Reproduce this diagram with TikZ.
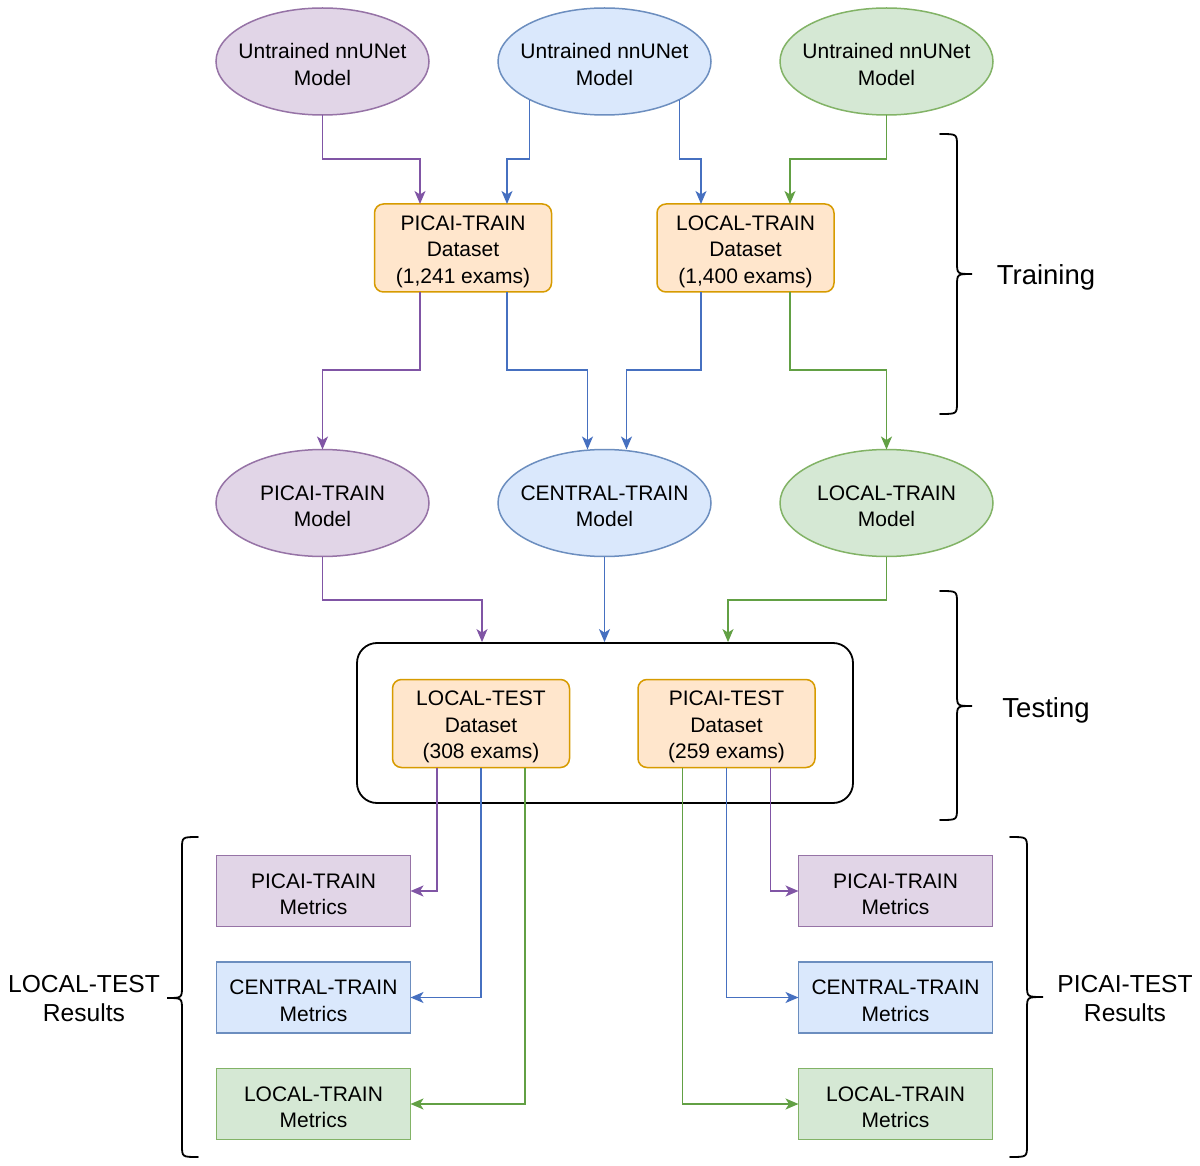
\documentclass[tikz,border=0pt]{standalone}
\usepackage{fontspec}
\setmainfont{Liberation Sans}
\usetikzlibrary{arrows.meta,shapes.geometric}
\definecolor{pfill}{HTML}{E1D5E7}
\definecolor{pdraw}{HTML}{9673A6}
\definecolor{bfill}{HTML}{DAE8FC}
\definecolor{bdraw}{HTML}{6C8EBF}
\definecolor{gfill}{HTML}{D5E8D4}
\definecolor{gdraw}{HTML}{82B366}
\definecolor{ofill}{HTML}{FFE6CC}
\definecolor{odraw}{HTML}{D79B00}
\definecolor{parrow}{RGB}{128,85,165}
\definecolor{barrow}{RGB}{70,112,192}
\definecolor{garrow}{RGB}{98,160,68}
\newcommand{\tstr}{\rule{0pt}{21.5pt}}
\begin{document}
\begin{tikzpicture}[x=1pt,y=-1pt,
  txt/.style={font=\fontsize{21}{26.5}\selectfont, align=center, inner sep=0pt, outer sep=0pt, line width=1.5pt},
  ell/.style={txt, ellipse, inner sep=-20pt, minimum width=213pt, minimum height=107pt},
  pell/.style={ell, fill=pfill, draw=pdraw},
  bell/.style={ell, fill=bfill, draw=bdraw},
  gell/.style={ell, fill=gfill, draw=gdraw},
  dset/.style={txt, rectangle, rounded corners=9pt, fill=ofill, draw=odraw, minimum width=177pt, minimum height=88pt},
  met/.style={txt, rectangle, minimum width=194pt, minimum height=71pt},
  pmet/.style={met, fill=pfill, draw=pdraw},
  bmet/.style={met, fill=bfill, draw=bdraw},
  gmet/.style={met, fill=gfill, draw=gdraw},
  arr/.style={line width=1.5pt, -{Stealth[length=13pt,width=11pt,inset=3.5pt]}},
  parr/.style={arr, draw=parrow},
  barr/.style={arr, draw=barrow},
  garr/.style={arr, draw=garrow},
  bracepath/.style={line width=1.8pt, draw=black, line cap=round},
  big/.style={font=\fontsize{27.5}{32}\selectfont, inner sep=0pt, align=center},
  res/.style={font=\fontsize{24.6}{29}\selectfont, inner sep=0pt, align=center}
]
\useasboundingbox (0,0) rectangle (1200,1166);
\fill[white] (0,0) rectangle (1200,1166);

% level coordinates
\coordinate (L1) at (0,159);
\coordinate (L2) at (0,370);
\coordinate (L3) at (0,600);

% top ellipses
\node[pell] (u1) at (322.5,61.5) {\tstr Untrained nnUNet\\Model};
\node[bell] (u2) at (604.5,61.5) {\tstr Untrained nnUNet\\Model};
\node[gell] (u3) at (886.5,61.5) {\tstr Untrained nnUNet\\Model};

% training datasets
\node[dset] (ptr) at (463,248) {\tstr PICAI-TRAIN\\Dataset\\(1,241 exams)};
\node[dset] (ltr) at (745.5,248) {\tstr LOCAL-TRAIN\\Dataset\\(1,400 exams)};

% trained models
\node[pell] (pm) at (322.5,503) {\tstr PICAI-TRAIN\\Model};
\node[bell] (cm) at (604.5,503) {\tstr CENTRAL-TRAIN\\Model};
\node[gell] (lm) at (886.5,503) {\tstr LOCAL-TRAIN\\Model};

% testing container
\node[draw=black, fill=white, line width=1.8pt, rounded corners=20pt, minimum width=496pt, minimum height=160pt, inner sep=0pt] (tc) at (605,723) {};
\node[dset] (lt) at (481,723.5) {\tstr LOCAL-TEST\\Dataset\\(308 exams)};
\node[dset] (pts) at (726.5,723.5) {\tstr PICAI-TEST\\Dataset\\(259 exams)};

% metrics
\node[pmet] (pm1) at (313.5,891) {\tstr PICAI-TRAIN\\Metrics};
\node[bmet] (cm1) at (313.5,997.5) {\tstr CENTRAL-TRAIN\\Metrics};
\node[gmet] (lm1) at (313.5,1104) {\tstr LOCAL-TRAIN\\Metrics};
\node[pmet] (pm2) at (895.5,891) {\tstr PICAI-TRAIN\\Metrics};
\node[bmet] (cm2) at (895.5,997.5) {\tstr CENTRAL-TRAIN\\Metrics};
\node[gmet] (lm2) at (895.5,1104) {\tstr LOCAL-TRAIN\\Metrics};

% ports
\coordinate (ptrN1) at ([xshift=-43pt]ptr.north);
\coordinate (ptrN2) at ([xshift=44pt]ptr.north);
\coordinate (ltrN1) at ([xshift=-44.5pt]ltr.north);
\coordinate (ltrN2) at ([xshift=44.5pt]ltr.north);
\coordinate (ptrS1) at ([xshift=-43pt]ptr.south);
\coordinate (ptrS2) at ([xshift=44pt]ptr.south);
\coordinate (ltrS1) at ([xshift=-44.5pt]ltr.south);
\coordinate (ltrS2) at ([xshift=44.5pt]ltr.south);
\coordinate (cmN1) at ([xshift=-17pt]cm.north);
\coordinate (cmN2) at ([xshift=22pt]cm.north);
\coordinate (tcN1) at ([xshift=-123pt]tc.north);
\coordinate (tcN2) at ([xshift=123pt]tc.north);
\coordinate (ltS1) at ([xshift=-44pt]lt.south);
\coordinate (ltS2) at ([xshift=44pt]lt.south);
\coordinate (ptsS1) at ([xshift=-44pt]pts.south);
\coordinate (ptsS2) at ([xshift=44pt]pts.south);

% connectors
\draw[parr] (u1.south) |- (ptrN1 |- L1) -- (ptrN1);
\draw[barr] (u2.207) |- (ptrN2 |- L1) -- (ptrN2);
\draw[barr] (u2.-27) |- (ltrN1 |- L1) -- (ltrN1);
\draw[garr] (u3.south) |- (ltrN2 |- L1) -- (ltrN2);
\draw[parr] (ptrS1) |- (pm.north |- L2) -- (pm.north);
\draw[barr] (ptrS2) |- (cmN1 |- L2) -- (cmN1);
\draw[barr] (ltrS1) |- (cmN2 |- L2) -- (cmN2);
\draw[garr] (ltrS2) |- (lm.north |- L2) -- (lm.north);
\draw[parr] (pm.south) |- (tcN1 |- L3) -- (tcN1);
\draw[barr] (cm.south) -- (cm.south |- tc.north);
\draw[garr] (lm.south) |- (tcN2 |- L3) -- (tcN2);
\draw[parr] (ltS1) |- (pm1.east);
\draw[barr] (lt.south) |- (cm1.east);
\draw[garr] (ltS2) |- (lm1.east);
\draw[garr] (ptsS1) |- (lm2.west);
\draw[barr] (pts.south) |- (cm2.west);
\draw[parr] (ptsS2) |- (pm2.west);

% braces
\draw[bracepath] (940,134) .. controls (957,134) .. (957,146) -- (957,262) .. controls (957,274) .. (972,274) .. controls (957,274) .. (957,286) -- (957,402) .. controls (957,414) .. (940,414);
\draw[bracepath] (940,591) .. controls (957,591) .. (957,603) -- (957,694) .. controls (957,706) .. (972,706) .. controls (957,706) .. (957,718) -- (957,808) .. controls (957,820) .. (940,820);
\draw[bracepath] (198,837) .. controls (182,837) .. (182,849) -- (182,986) .. controls (182,998) .. (167,998) .. controls (182,998) .. (182,1010) -- (182,1145) .. controls (182,1157) .. (198,1157);
\draw[bracepath] (1010,837) .. controls (1027,837) .. (1027,849) -- (1027,985) .. controls (1027,997) .. (1043,997) .. controls (1027,997) .. (1027,1009) -- (1027,1145) .. controls (1027,1157) .. (1010,1157);

% labels
\node[big, anchor=base] (trl) at (1046,285) {Training};
\node[big, anchor=base] (tel) at (1046,717) {Testing};
\node[res] (lres) at (84,999) {LOCAL-TEST\\Results};
\node[res] (pres) at (1125,999) {PICAI-TEST\\Results};
\end{tikzpicture}
\end{document}
